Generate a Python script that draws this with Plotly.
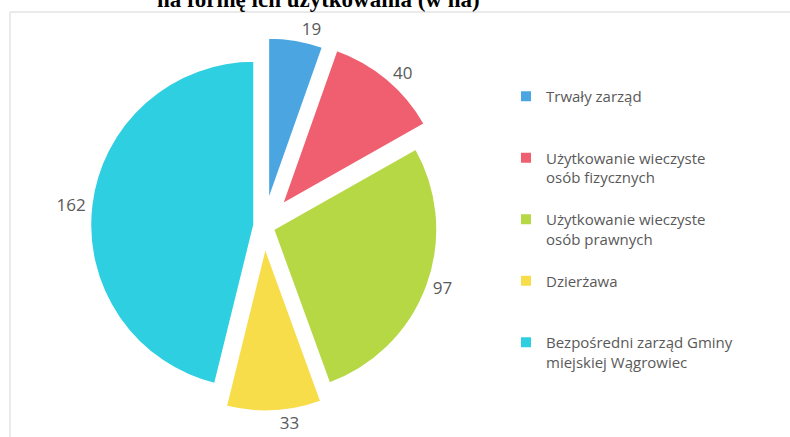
import plotly.graph_objects as go

# ---- data ----
categories = [
    "Trwały zarząd",
    "Użytkowanie wieczyste<br>osób fizycznych",
    "Użytkowanie wieczyste<br>osób prawnych",
    "Dzierżawa",
    "Bezpośredni zarząd Gminy<br>miejskiej Wągrowiec",
]
values_ha = [19, 40, 97, 33, 162]
title_text = "na formę ich użytkowania (w ha)"

# ---- styles ----
colors = ["#4BA5E0", "#EF5F70", "#B7D845", "#F8DD4B", "#2FCFE2"]
pulls = [0.15, 0.17, 0.06, 0.13, 0.06]

W, H = 790, 437
CX, CY, R = 264, 226, 164
half = R * (1 + max(pulls))

# pad every legend entry to three lines so the entries are evenly spaced
def pad(label, n=3):
    k = label.count("<br>") + 1
    return label + "<br>\u00a0" * (n - k)

legend_labels = [pad(c) for c in categories]

fig = go.Figure()
fig.add_trace(go.Pie(
    labels=legend_labels,
    values=values_ha,
    sort=False,
    direction="clockwise",
    rotation=0,
    pull=pulls,
    marker=dict(colors=colors, line=dict(color="white", width=2)),
    textinfo="value",
    textposition="outside",
    outsidetextfont=dict(family="Open Sans", size=17, color="#595959"),
    domain=dict(x=[(CX - half) / W, (CX + half) / W],
                y=[1 - (CY + half) / H, 1 - (CY - half) / H]),
    hoverinfo="label+value",
    showlegend=True,
))

fig.update_layout(
    width=W, height=H, autosize=False,
    margin=dict(l=0, r=0, t=0, b=0, autoexpand=False),
    paper_bgcolor="white", plot_bgcolor="white",
    legend=dict(
        x=506 / W, y=1 - 80 / H, xanchor="left", yanchor="top",
        valign="top",
        font=dict(family="Open Sans", size=15, color="#595959"),
        bgcolor="rgba(0,0,0,0)",
    ),
    shapes=[dict(type="rect", xref="paper", yref="paper",
                 x0=10 / W, x1=1.05, y0=-0.05, y1=1 - 12 / H,
                 line=dict(color="#D6D6D6", width=1), layer="below")],
    annotations=[dict(text="<b>" + title_text + "</b>", xref="paper", yref="paper",
                      x=318 / W, y=1 - 14 / H, xanchor="center", yanchor="bottom",
                      showarrow=False,
                      font=dict(family="Liberation Serif", size=23, color="black"))],
)

fig.write_html(
    "out.html",
    config={"displayModeBar": False},
    post_script="document.body.style.margin='0';document.body.style.overflow='hidden';",
)
